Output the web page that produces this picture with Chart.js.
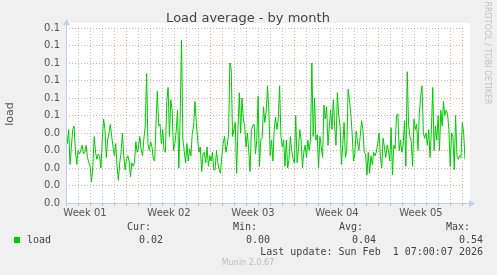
<!DOCTYPE html>
<html>
<head>
<meta charset="utf-8">
<script src="https://cdn.jsdelivr.net/npm/chart.js@4.4.0/dist/chart.umd.min.js"></script>
<style>
  html, body { margin: 0; padding: 0; background: #f0f0f0; }
  canvas { display: block; }
</style>
</head>
<body>
<canvas id="loadChart" width="497" height="275"></canvas>
<script>
// load average, one sample every ~2.7 hours over the month
const loadSeries = [
  0.042, 0.034, 0.042, 0.022, 0.032, 0.042, 0.044, 0.030, 0.022, 0.030,
  0.028, 0.030, 0.033, 0.028, 0.029, 0.033, 0.026, 0.023, 0.021, 0.012,
  0.021, 0.038, 0.029, 0.025, 0.028, 0.027, 0.020, 0.036, 0.048, 0.042,
  0.026, 0.036, 0.040, 0.045, 0.038, 0.032, 0.027, 0.034, 0.021, 0.013,
  0.023, 0.029, 0.040, 0.027, 0.019, 0.025, 0.027, 0.024, 0.015, 0.023,
  0.021, 0.023, 0.035, 0.029, 0.032, 0.038, 0.030, 0.027, 0.037, 0.044,
  0.074,
  0.034, 0.030, 0.035, 0.032, 0.025, 0.024, 0.046, 0.064, 0.044, 0.045,
  0.034, 0.042, 0.030, 0.029, 0.058, 0.066, 0.038, 0.059, 0.053, 0.030,
  0.034, 0.041, 0.053, 0.020, 0.050, 0.093, 0.036, 0.030, 0.023, 0.034,
  0.024, 0.031, 0.027, 0.040, 0.044, 0.058, 0.046, 0.036, 0.029, 0.032,
  0.018, 0.028, 0.029, 0.023, 0.032, 0.021, 0.027, 0.024, 0.029, 0.019,
  0.019, 0.030, 0.023, 0.019, 0.017, 0.027, 0.034, 0.038, 0.029, 0.033,
  0.039,
  0.080, 0.076, 0.038, 0.042, 0.046, 0.017, 0.042, 0.063, 0.040, 0.060,
  0.048, 0.044, 0.032, 0.040, 0.030, 0.018, 0.042, 0.044, 0.045, 0.028,
  0.036, 0.061, 0.021, 0.036, 0.037, 0.055, 0.046, 0.052, 0.067, 0.053,
  0.027, 0.036, 0.024, 0.042, 0.049, 0.042, 0.048, 0.067, 0.038, 0.032,
  0.036, 0.021, 0.036, 0.020, 0.025, 0.038, 0.030, 0.025, 0.023, 0.050,
  0.023, 0.030, 0.042, 0.036, 0.020, 0.029, 0.033, 0.026, 0.036, 0.030,
  0.036,
  0.080, 0.038, 0.060, 0.036, 0.039, 0.020, 0.038, 0.032, 0.026, 0.056,
  0.048, 0.055, 0.033, 0.044, 0.053, 0.042, 0.059, 0.044, 0.033, 0.063,
  0.050, 0.044, 0.022, 0.033, 0.046, 0.026, 0.030, 0.065, 0.059, 0.051,
  0.040, 0.024, 0.028, 0.041, 0.035, 0.030, 0.038, 0.047, 0.042, 0.029,
  0.028, 0.016, 0.029, 0.017, 0.027, 0.022, 0.029, 0.027, 0.029, 0.034,
  0.040, 0.027, 0.020, 0.037, 0.032, 0.026, 0.033, 0.030, 0.024, 0.043,
  0.016, 0.033,
  0.031, 0.050, 0.051, 0.030, 0.036, 0.029, 0.033, 0.047, 0.021, 0.075,
  0.045, 0.038, 0.035, 0.021, 0.048, 0.042, 0.045, 0.030, 0.051, 0.061,
  0.067, 0.040, 0.037, 0.040, 0.033, 0.042, 0.026, 0.042, 0.066, 0.030,
  0.044, 0.036, 0.050, 0.030, 0.053, 0.044, 0.058, 0.050, 0.053, 0.051,
  0.042, 0.021, 0.040, 0.038, 0.019, 0.050, 0.027, 0.025, 0.027, 0.026,
  0.046, 0.040, 0.025
];

const weekLabels = ['Week 01', 'Week 02', 'Week 03', 'Week 04', 'Week 05'];
const weekLabelDays = [1.5, 8.5, 15.5, 22.5, 29.5];
const weekBoundaryDays = [5, 12, 19, 26, 33];
const yTickValues = [0, 0.01, 0.02, 0.03, 0.04, 0.05, 0.06, 0.07, 0.08, 0.09, 0.1];
const yTickLabels = ['0.0', '0.0', '0.0', '0.0', '0.0', '0.1', '0.1', '0.1', '0.1', '0.1', '0.1'];

const legendHeads = ['Cur:', 'Min:', 'Avg:', 'Max:'];
const legendValues = ['0.02', '0.00', '0.04', '0.54'];
const lastUpdate = 'Last update: Sun Feb  1 07:00:07 2026';

const X_MIN = -0.083, X_MAX = 33.17;

const points = loadSeries.map((v, i) => ({
    x: X_MIN + i * (X_MAX - X_MIN) / (loadSeries.length - 1),
    y: v
}));

const RED_GRID = 'rgba(225, 90, 90, 0.55)';
const GREY_GRID = 'rgba(175, 175, 175, 0.75)';
const AXIS = '#c4cbf2';

const munin = {
    id: 'munin',
    beforeDraw(chart) {
        const c = chart.ctx, a = chart.chartArea;
        c.save();
        c.fillStyle = '#f0f0f0';
        c.fillRect(0, 0, chart.width, chart.height);
        c.fillStyle = '#ffffff';
        c.fillRect(a.left, a.top - 5, a.right - a.left + 5, a.bottom - a.top + 5);
        c.restore();
    },
    afterDraw(chart) {
        const c = chart.ctx, a = chart.chartArea;
        c.save();
        // axes with arrows
        c.strokeStyle = AXIS;
        c.fillStyle = AXIS;
        c.lineWidth = 1;
        c.beginPath();
        c.moveTo(a.left + 0.5, a.bottom);
        c.lineTo(a.left + 0.5, a.top - 4);
        c.moveTo(a.left, a.bottom + 0.5);
        c.lineTo(a.right + 5, a.bottom + 0.5);
        c.stroke();
        c.beginPath();
        c.moveTo(a.left - 3, a.top - 3);
        c.lineTo(a.left + 4, a.top - 3);
        c.lineTo(a.left + 0.5, a.top - 9);
        c.closePath();
        c.fill();
        c.beginPath();
        c.moveTo(a.right + 4, a.bottom - 3);
        c.lineTo(a.right + 4, a.bottom + 4);
        c.lineTo(a.right + 10, a.bottom + 0.5);
        c.closePath();
        c.fill();

        // title
        c.fillStyle = '#444';
        c.font = '13px "DejaVu Sans"';
        c.textAlign = 'center';
        c.textBaseline = 'middle';
        c.fillText('Load average - by month', 248, 19);

        // y axis title
        c.save();
        c.translate(10, 114);
        c.rotate(-Math.PI / 2);
        c.font = '11px "DejaVu Sans"';
        c.fillStyle = '#555';
        c.fillText('load', 0, 0);
        c.restore();

        // rrdtool credit
        c.save();
        c.translate(487, 53);
        c.rotate(Math.PI / 2);
        c.font = '8px "DejaVu Sans"';
        c.fillStyle = '#c0c0c0';
        c.fillText('RRDTOOL / TOBI OETIKER', 0, 0);
        c.restore();

        // legend
        c.font = '10px "DejaVu Sans Mono"';
        c.fillStyle = '#444';
        c.textAlign = 'right';
        const headX = [151, 257, 363, 470];
        const valX = [163, 270, 376, 483];
        legendHeads.forEach((h, i) => c.fillText(h, headX[i], 227));
        legendValues.forEach((v, i) => c.fillText(v, valX[i], 240));
        c.fillText(lastUpdate, 483, 252);
        c.textAlign = 'left';
        c.fillText('load', 27, 240);
        c.fillStyle = '#00cc00';
        c.fillRect(14, 237, 6, 6);

        c.font = '8px "DejaVu Sans"';
        c.fillStyle = '#bbbbbb';
        c.textAlign = 'center';
        c.fillText('Munin 2.0.67', 248, 263);
        c.restore();
    }
};

Chart.defaults.font.family = '"DejaVu Sans"';
Chart.defaults.font.size = 10;
Chart.defaults.color = '#555';

new Chart(document.getElementById('loadChart'), {
    type: 'line',
    data: {
        datasets: [{
            label: 'load',
            data: points,
            borderColor: '#00cc00',
            borderWidth: 1,
            pointRadius: 0,
            tension: 0,
            fill: false
        }]
    },
    plugins: [munin],
    options: {
        responsive: false,
        animation: false,
        devicePixelRatio: 1,
        layout: { padding: { left: 0, top: 28, right: 32, bottom: 0 } },
        plugins: { legend: { display: false }, tooltip: { enabled: false } },
        scales: {
            x: {
                type: 'linear',
                min: X_MIN,
                max: X_MAX,
                afterFit(scale) { scale.height = 72; },
                afterBuildTicks(scale) {
                    const t = [];
                    for (let d = 0; d <= 33; d += 0.5) t.push({ value: d });
                    scale.ticks = t;
                },
                border: { display: false, dash: [1, 2] },
                grid: {
                    drawTicks: true,
                    tickLength: 3,
                    color(ctx) {
                        const v = ctx.tick ? ctx.tick.value : -1;
                        if (weekBoundaryDays.includes(v)) return RED_GRID;
                        if (Number.isInteger(v)) return GREY_GRID;
                        return 'rgba(0,0,0,0)';
                    }
                },
                ticks: {
                    autoSkip: false,
                    maxRotation: 0,
                    padding: 1,
                    color: '#555',
                    callback(value) {
                        const i = weekLabelDays.indexOf(value);
                        return i >= 0 ? weekLabels[i] : '';
                    }
                }
            },
            y: {
                min: 0,
                max: 0.1,
                afterFit(scale) { scale.width = 66; },
                afterBuildTicks(scale) {
                    const t = [];
                    for (let k = 0; k <= 20; k++) t.push({ value: k * 0.005 });
                    scale.ticks = t;
                },
                border: { display: false, dash: [1, 2] },
                grid: {
                    drawTicks: false,
                    color(ctx) {
                        const k = ctx.tick ? Math.round(ctx.tick.value * 1000) : 1;
                        return k % 10 === 0 ? RED_GRID : GREY_GRID;
                    }
                },
                ticks: {
                    padding: 6,
                    color: '#555',
                    callback(value) {
                        const i = yTickValues.findIndex(t => Math.abs(t - value) < 1e-9);
                        return i >= 0 ? yTickLabels[i] : '';
                    }
                }
            }
        }
    }
});
</script>
</body>
</html>
